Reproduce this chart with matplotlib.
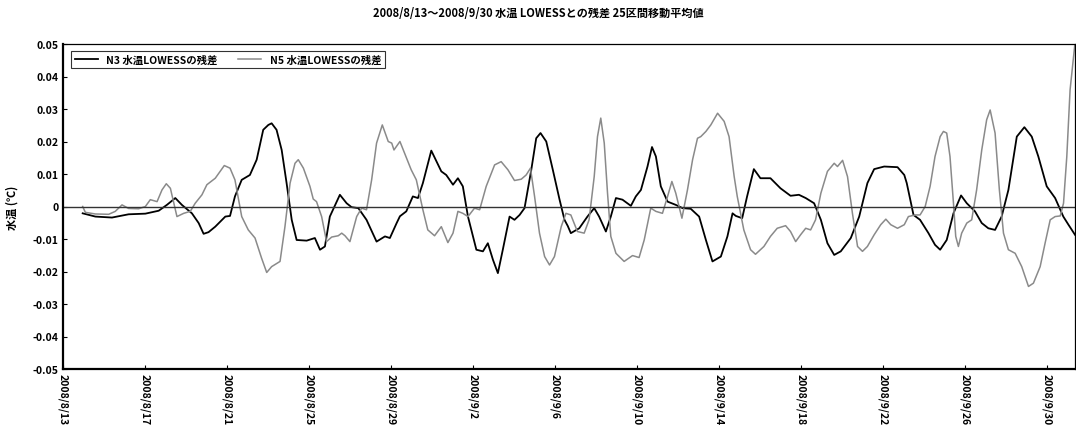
import pandas as pd
import matplotlib
matplotlib.use('Agg')
import matplotlib.pyplot as plt

plt.rcParams['font.family'] = ['Noto Sans CJK JP', 'DejaVu Sans']
plt.rcParams['font.weight'] = 'bold'
plt.rcParams['axes.unicode_minus'] = False

start = pd.Timestamp('2008-08-13')

# N3 residual (days since 8/13, value)
n3_days = [0.96, 1.58, 2.39, 2.80, 3.20, 4.02, 4.67, 5.07, 5.48, 5.80, 6.29, 6.62, 6.86, 7.10,
           7.43, 7.92, 8.15, 8.39, 8.72, 9.12, 9.45, 9.77, 10.02, 10.18, 10.42, 10.67, 10.91,
           11.16, 11.40, 11.89, 12.29, 12.54, 12.78, 13.02, 13.51, 13.84, 14.08, 14.41, 14.81,
           15.30, 15.71, 15.95, 16.28, 16.44, 16.75, 17.07, 17.32, 17.56, 17.97, 18.46, 18.70,
           19.03, 19.27, 19.51, 19.76, 20.17, 20.49, 20.73, 20.98, 21.22, 21.46, 21.79, 22.03,
           22.28, 22.52, 22.85, 23.09, 23.30, 23.58, 23.90, 24.23, 24.47, 24.63, 24.78, 25.19,
           25.59, 25.92, 26.16, 26.49, 26.73, 26.98, 27.30, 27.71, 27.95, 28.20, 28.52, 28.74,
           28.93, 29.17, 29.50, 29.90, 30.23, 30.63, 31.04, 31.37, 31.69, 32.10, 32.42, 32.67,
           32.83, 33.14, 33.38, 33.71, 34.03, 34.52, 35.01, 35.50, 35.91, 36.24, 36.65, 36.98,
           37.30, 37.63, 37.95, 38.44, 38.85, 39.25, 39.58, 40.07, 40.72, 41.05, 41.17, 41.50,
           41.82, 42.23, 42.55, 42.80, 43.12, 43.45, 43.82, 44.10, 44.50, 44.83, 45.15, 45.48,
           45.80, 46.13, 46.54, 46.91, 47.27, 47.59, 48.00, 48.41, 48.81, 49.06, 49.38]
n3_vals = [-0.0021, -0.0031, -0.0034, -0.0029, -0.0024, -0.0022, -0.0013, 0.0005, 0.0026, 0.0005,
           -0.0021, -0.0051, -0.0084, -0.0079, -0.0062, -0.0031, -0.0029, 0.0031, 0.0082, 0.0097,
           0.0144, 0.0236, 0.0251, 0.0256, 0.0236, 0.0174, 0.0072, -0.0041, -0.0103, -0.0105,
           -0.0097, -0.0133, -0.0123, -0.0031, 0.0036, 0.0010, -0.0002, -0.0005, -0.0041, -0.0108,
           -0.0092, -0.0097, -0.0051, -0.0030, -0.0015, 0.0031, 0.0026, 0.0072, 0.0172, 0.0108,
           0.0097, 0.0067, 0.0087, 0.0062, -0.0031, -0.0133, -0.0138, -0.0113, -0.0164, -0.0205,
           -0.0133, -0.0031, -0.0041, -0.0026, -0.0005, 0.0113, 0.0210, 0.0226, 0.0200, 0.0113,
           0.0021, -0.0041, -0.0060, -0.0082, -0.0067, -0.0031, -0.0005, -0.0031, -0.0077, -0.0031,
           0.0026, 0.0021, 0.0002, 0.0031, 0.0051, 0.0123, 0.0183, 0.0154, 0.0062, 0.0015, 0.0005,
           -0.0005, -0.0007, -0.0031, -0.0103, -0.0169, -0.0154, -0.0092, -0.0021, -0.0029,
           -0.0036, 0.0031, 0.0115, 0.0087, 0.0087, 0.0056, 0.0033, 0.0036, 0.0026, 0.0010,
           -0.0041, -0.0113, -0.0149, -0.0138, -0.0097, -0.0031, 0.0072, 0.0115, 0.0123, 0.0121,
           0.0097, 0.0072, -0.0026, -0.0041, -0.0082, -0.0118, -0.0133, -0.0103, -0.0021, 0.0034,
           0.0010, -0.0015, -0.0051, -0.0067, -0.0072, -0.0031, 0.0051, 0.0215, 0.0244, 0.0215,
           0.0154, 0.0062, 0.0026, -0.0031, -0.0056, -0.0087]

# N5 residual (days since 8/13, value)
n5_days = [0.96, 1.09, 1.58, 2.23, 2.55, 2.88, 3.20, 3.69, 4.02, 4.26, 4.59, 4.83, 5.04, 5.24,
           5.56, 5.89, 6.21, 6.45, 6.78, 7.02, 7.43, 7.67, 7.87, 8.15, 8.39, 8.72, 9.04, 9.37,
           9.69, 9.94, 10.18, 10.59, 10.83, 11.08, 11.32, 11.48, 11.73, 12.05, 12.21, 12.37,
           12.62, 12.86, 13.11, 13.43, 13.60, 13.76, 14.00, 14.33, 14.57, 14.81, 15.06, 15.30,
           15.58, 15.87, 16.04, 16.15, 16.44, 16.99, 17.24, 17.56, 17.80, 18.13, 18.46, 18.78,
           19.03, 19.27, 19.51, 19.76, 20.08, 20.33, 20.65, 21.06, 21.38, 21.71, 22.03, 22.36,
           22.60, 22.81, 23.01, 23.25, 23.50, 23.74, 23.98, 24.31, 24.54, 24.78, 25.10, 25.43,
           25.67, 25.92, 26.08, 26.24, 26.41, 26.57, 26.73, 26.98, 27.38, 27.79, 28.11, 28.36,
           28.68, 28.93, 29.25, 29.50, 29.71, 29.90, 30.20, 30.47, 30.72, 30.96, 31.12, 31.37,
           31.61, 31.94, 32.26, 32.50, 32.75, 32.90, 33.22, 33.55, 33.79, 34.20, 34.52, 34.85,
           35.26, 35.50, 35.75, 35.99, 36.24, 36.48, 36.72, 36.98, 37.30, 37.63, 37.79, 38.04,
           38.28, 38.52, 38.77, 39.01, 39.25, 39.58, 39.90, 40.15, 40.39, 40.72, 41.05, 41.25,
           41.58, 41.82, 42.07, 42.31, 42.55, 42.80, 42.96, 43.12, 43.28, 43.45, 43.56, 43.69,
           43.85, 44.10, 44.34, 44.58, 44.83, 45.07, 45.24, 45.48, 45.69, 45.89, 46.13, 46.46,
           46.78, 47.11, 47.35, 47.68, 47.92, 48.17, 48.41, 48.66, 48.82, 48.98, 49.14, 49.38]
n5_vals = [0.0000, -0.0018, -0.0023, -0.0024, -0.0015, 0.0005, -0.0006, -0.0007, 0.0000, 0.0021,
           0.0015, 0.0051, 0.0070, 0.0056, -0.0031, -0.0021, -0.0015, 0.0010, 0.0036, 0.0067,
           0.0087, 0.0108, 0.0126, 0.0118, 0.0082, -0.0031, -0.0072, -0.0097, -0.0159, -0.0203,
           -0.0185, -0.0169, -0.0062, 0.0072, 0.0133, 0.0144, 0.0118, 0.0062, 0.0023, 0.0015,
           -0.0031, -0.0108, -0.0094, -0.0090, -0.0082, -0.0090, -0.0108, -0.0031, -0.0005,
           -0.0010, 0.0082, 0.0195, 0.0251, 0.0200, 0.0195, 0.0174, 0.0200, 0.0113, 0.0082,
           -0.0010, -0.0072, -0.0090, -0.0062, -0.0111, -0.0082, -0.0015, -0.0021, -0.0031,
           -0.0005, -0.0010, 0.0062, 0.0128, 0.0138, 0.0113, 0.0080, 0.0084, 0.0097, 0.0118,
           0.0031, -0.0082, -0.0154, -0.0180, -0.0154, -0.0062, -0.0021, -0.0026, -0.0077,
           -0.0082, -0.0041, 0.0092, 0.0215, 0.0272, 0.0195, 0.0041, -0.0092, -0.0144, -0.0169,
           -0.0151, -0.0157, -0.0103, -0.0005, -0.0015, -0.0021, 0.0031, 0.0077, 0.0041, -0.0036,
           0.0051, 0.0144, 0.0210, 0.0215, 0.0231, 0.0251, 0.0287, 0.0262, 0.0215, 0.0092, 0.0031,
           -0.0072, -0.0133, -0.0147, -0.0123, -0.0092, -0.0067, -0.0059, -0.0077, -0.0108,
           -0.0087, -0.0067, -0.0072, -0.0041, 0.0041, 0.0108, 0.0133, 0.0123, 0.0142, 0.0092,
           -0.0021, -0.0123, -0.0138, -0.0123, -0.0087, -0.0056, -0.0039, -0.0056, -0.0067,
           -0.0056, -0.0031, -0.0026, -0.0026, 0.0000, 0.0062, 0.0154, 0.0215, 0.0231, 0.0226,
           0.0154, 0.0010, -0.0092, -0.0123, -0.0082, -0.0051, -0.0041, 0.0051, 0.0174, 0.0267,
           0.0297, 0.0226, 0.0051, -0.0082, -0.0133, -0.0144, -0.0185, -0.0246, -0.0236, -0.0185,
           -0.0113, -0.0041, -0.0031, -0.0029, 0.0010, 0.0154, 0.0359, 0.0503]

y_ticks = [0.05, 0.04, 0.03, 0.02, 0.01, 0, -0.01, -0.02, -0.03, -0.04, -0.05]
y_labels = ['0.05', '0.04', '0.03', '0.02', '0.01', '0', '-0.01', '-0.02', '-0.03', '-0.04', '-0.05']
x_ticks = pd.date_range('2008-08-13', '2008-09-30', freq='4D')
x_labels = [f'{d.year}/{d.month}/{d.day}' for d in x_ticks]

n3_t = start + pd.to_timedelta(n3_days, unit='D')
n5_t = start + pd.to_timedelta(n5_days, unit='D')

fig = plt.figure(figsize=(10.76, 4.35), dpi=100)
ax = fig.add_axes([63 / 1076, 1 - 370 / 435, 1012 / 1076, 325 / 435])

ax.plot(n3_t, n3_vals, color='black', lw=1.3, label='N3 水温LOWESSの残差')
ax.plot(n5_t, n5_vals, color='#8a8a8a', lw=1.1, label='N5 水温LOWESSの残差')
ax.axhline(0, color='#333333', lw=1.0)

ax.set_xlim(start, start + pd.to_timedelta(49.38, unit='D'))
ax.set_ylim(-0.05, 0.05)
ax.set_yticks(y_ticks)
ax.set_yticklabels(y_labels, fontsize=7.5, fontweight='bold')
ax.set_xticks(x_ticks)
ax.set_xticklabels(x_labels, rotation=270, fontsize=7.5, fontweight='bold', va='top', ha='center')
ax.tick_params(direction='in', length=3, width=0.8, pad=3)
ax.set_ylabel('水温 (℃)', fontsize=8, fontweight='bold', labelpad=10)

for side in ['left', 'bottom']:
    ax.spines[side].set_linewidth(1.6)
for side in ['top', 'right']:
    ax.spines[side].set_linewidth(0.9)

leg = ax.legend(loc='upper left', ncol=2, fontsize=7.5, frameon=True, fancybox=False,
                edgecolor='black', handlelength=2.2, columnspacing=2.0,
                borderaxespad=0.5, borderpad=0.35, bbox_to_anchor=(0.003, 0.995))
leg.get_frame().set_linewidth(0.8)
for t in leg.get_texts():
    t.set_fontweight('bold')

fig.suptitle('2008/8/13～2008/9/30 水温 LOWESSとの残差 25区間移動平均値', fontsize=8,
             fontweight='bold', y=0.985)

fig.savefig('out.png', dpi=100)
